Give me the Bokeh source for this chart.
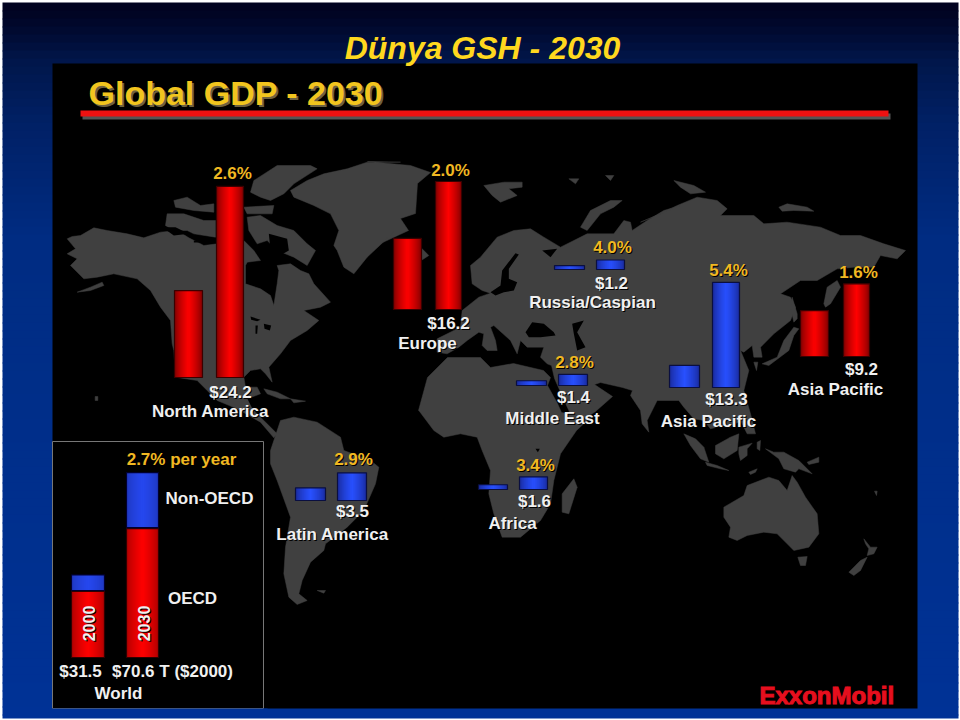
from bokeh.plotting import figure
from bokeh.embed import file_html
from bokeh.resources import INLINE
from bokeh.core.properties import value
from math import pi

# ---------- chart values ----------
TITLE = "Dünya GSH - 2030"
SUBTITLE = "Global GDP - 2030"
REGIONS = ["North America", "Europe", "Russia/Caspian", "Middle East", "Asia Pacific", "Asia Pacific", "Latin America", "Africa"]
GDP_2000 = [11.0, 9.0, 0.5, 0.6, 2.8, 5.8, 1.6, 0.6]
GDP_2030 = [24.2, 16.2, 1.2, 1.4, 13.3, 9.2, 3.5, 1.6]
GROWTH = ["2.6%", "2.0%", "4.0%", "2.8%", "5.4%", "1.6%", "2.9%", "3.4%"]
IS_OECD = [True, True, False, False, False, True, False, False]
WORLD_YEARS = ["2000", "2030"]
WORLD_OECD = [25.2, 49.2]
WORLD_NON_OECD = [6.3, 21.4]

# ---------- map outlines ----------
def z(ox, oy, pts):
    return [(ox + a / 3, oy + b / 3) for a, b in pts]
def z4(p): return z(60, 150, p)
def z5(p): return z(260, 380, p)
def z6(p): return z(380, 150, p)
def z7(p): return z(640, 180, p)
def z8(p): return z(640, 400, p)

NORTH_AMERICA = z4([(20,265),(35,258),(60,255),(100,232),(140,240),(200,250),(250,262),(300,245),(350,240),(385,262),(430,285),(470,280),(550,270),(580,300),(600,330),(560,335),
    (555,345),(555,400),(600,415),(630,435),(640,465),(650,400),(655,360),(650,345),(690,340),(720,360),(745,370),(760,400),(810,455),(780,470),(730,480),(775,510),(740,540),(690,570),
    (660,610),(625,650),(635,695),(615,670),(600,655),(570,660),(550,680),(555,710),(590,710),(600,730),(560,745),(575,775),(610,810),(650,850),(640,862),(600,815),(530,775),(470,750),(440,720),
    (410,690),(345,680),(340,600),(335,580),(330,510),(300,470),(270,420),(230,385),(160,370),(110,380),(70,385),(30,345),(50,325),(20,310),(45,295)])
ALEUTIANS = z4([(50,425),(90,410),(125,395),(130,405),(90,420)])
HAWAII = z4([(104,738),(112,738),(112,750),(104,750)])
BAFFIN = z4([(560,200),(600,195),(650,225),(700,240),(740,280),(765,300),(740,345),(700,320),(650,300),(620,270),(590,280),(565,240)])
ARCTIC_A = z4([(340,150),(380,140),(420,165),(460,160),(460,185),(400,180),(345,170)])
ARCTIC_B = z4([(320,190),(370,190),(430,210),(465,210),(465,260),(400,250),(380,240),(340,240),(315,225)])
ELLESMERE = z4([(580,90),(650,45),(750,45),(770,55),(700,100),(670,130),(630,150),(600,140),(570,125)])
DEVON = z4([(550,170),(640,165),(635,190),(560,190)])
GREENLAND = z4([(690,120),(740,90),(790,70),(860,55),(920,35),(1020,35)]) + [(367,161),(410,165),(430,172),(417,183),(415,213),(400,218),(408,230),(380,243)] + z4([(1000,245),(920,320),(880,370),(850,350),(830,300),(820,285),(835,240),(810,190),(760,165),(700,140)])
ICELAND = z6([(122,292),(145,315),(122,330)])
CUBA = z4([(610,715),(650,725),(690,745),(660,745),(620,730)])
HISPANIOLA = z4([(690,745),(735,752),(700,757)])
SOUTH_AMERICA = z5([(30,210),(60,120),(100,110),(170,125),(240,170),(250,210),(330,240),(355,260),(345,310),(310,390),(260,440),(195,490),(190,510),(150,545),(125,600),(115,640),(140,660),(110,672),(85,650),(70,580),(75,500),(90,410),(50,300),(30,250)])
FALKLAND = z5([(170,630),(195,630),(190,638)])
AFRICA = [(418,410),(427,377),(447,357),(480,357),(490,367),(513,363),(543,370),(550,377),(547,385),(557,403),(561,412),(590,417),(576,430)] + z5([(900,220),(880,300),(870,370),(840,420),(780,470),(725,470),(700,400),(685,340),(690,270),(665,210),(650,170),(600,160),(550,170),(520,150),(475,90)])
MADAGASCAR = z5([(905,340),(940,295),(950,320),(925,400),(905,395)])
EURASIA = z6([(170,565),(240,530),(245,480),(295,440),(330,428),(305,420),(275,400),(270,345),(300,320),(350,260),(400,240),(450,235),(490,260),(540,290),(580,270),(620,250),(700,250),(730,210),(750,215),(755,240),(800,210),(850,180),(900,165)]) + \
    z7([(0,125),(60,100),(110,75),(170,50),(230,60),(260,85),(240,105),(340,105),(370,130),(440,125),(540,140),(600,165),(660,165),(730,190),(795,210),(770,235),(720,225),(700,260),(640,260),(590,265),(530,300),(480,300),(420,340),(450,350),(465,380),(450,420),(400,460),(360,500),(365,530),(340,530),(335,495),(310,515),(300,510),(325,570),(310,630),(330,700)]) + \
    z8([(340,80),(345,100),(320,100),(300,60),(270,80),(250,75),(210,85),(190,60),(160,55),(130,20),(115,0),(50,0),(20,60),(25,95),(5,70),(0,30)]) + \
    [(630,395),(632,390),(622,387),(600,382),(594,384),(600,388),(612,396),(595,411),(575,424),(566,405),(554,378),(551,365)] + \
    z6([(500,640),(480,620),(490,590),(440,590),(420,570),(410,610),(390,570),(340,525),(330,530),(345,570),(350,600),(320,600),(305,585),(310,550),(295,545),(260,570),(235,590),(200,610),(170,605)])
NOVAYA = z6([(600,230),(630,180),(690,150),(725,150),(700,170),(660,190),(620,240)])
SVALBARD = z6([(310,105),(370,95),(425,95),(425,110),(385,115),(410,135),(360,155),(335,135)])
ARCTIC_C = z6([(565,85),(595,85),(585,100)])
ARCTIC_D = z6([(675,75),(700,75),(690,90)])
ARCTIC_E = z7([(100,0),(160,15),(195,35),(150,40),(120,20)])
ARCTIC_F = z7([(415,80),(440,70),(500,80),(520,92),(460,90),(425,92)])
SAKHALIN = z7([(550,370),(560,320),(590,300),(600,320),(570,370),(555,380)])
HOKKAIDO = z7([(455,350),(470,400),(470,415),(460,425),(450,380)])
JAPAN = z7([(365,550),(410,530),(430,480),(460,440),(475,445),(460,465),(445,510),(385,555)])
TAIWAN = z7([(340,545),(352,545),(348,570)])
SUMATRA = z8([(130,100),(165,115),(190,140),(205,185),(180,175),(150,135)])
BORNEO = z8([(225,135),(270,110),(295,100),(290,150),(250,175),(225,160)])
SULAWESI = z8([(295,140),(335,128),(320,145),(320,165),(300,180),(295,160)])
PHILIPPINES = z8([(350,125),(360,120),(358,150),(350,145)])
JAVA = z8([(195,185),(230,195),(265,210),(240,205),(200,195)])
NEW_GUINEA = z8([(375,145),(400,155),(430,155),(475,180),(515,220),(475,205),(465,215),(430,205),(415,175)])
NEW_BRITAIN = z8([(500,185),(535,170),(535,185),(505,192)])
TIMOR = z8([(325,215),(350,205),(345,215),(330,222)])
AUSTRALIA = z8([(250,320),(310,285),(320,255),(385,230),(415,240),(440,270),(455,225),(470,245),(495,290),(530,340),(535,400),(505,440),(460,450),(440,430),(410,400),(370,395),(320,405),(290,420),(265,410),(270,380),(250,350)])
TASMANIA = z8([(472,470),(500,468),(495,495),(480,495)])
NZ_SOUTH = z8([(625,515),(660,480),(680,470),(660,510),(640,525)])
NZ_NORTH = z8([(670,415),(690,440),(710,440),(700,460),(680,465),(685,445),(675,430)])
NOUMEA = z8([(702,272),(710,272),(708,285)])
LAND = [NORTH_AMERICA, ALEUTIANS, HAWAII, BAFFIN, ARCTIC_A, ARCTIC_B, ELLESMERE, DEVON, GREENLAND, ICELAND, CUBA, HISPANIOLA,
        SOUTH_AMERICA, FALKLAND, AFRICA, MADAGASCAR, EURASIA, NOVAYA, SVALBARD, ARCTIC_C, ARCTIC_D, ARCTIC_E, ARCTIC_F, SAKHALIN,
        HOKKAIDO, JAPAN, TAIWAN, SUMATRA, BORNEO, SULAWESI, PHILIPPINES, JAVA, NEW_GUINEA, NEW_BRITAIN, TIMOR, AUSTRALIA, TASMANIA,
        NZ_SOUTH, NZ_NORTH, NOUMEA]

WATER = [z4([(625,250),(680,265),(685,300),(650,320),(630,300)]),
         z4([(570,498),(600,508),(590,512),(572,508)]),
         z4([(610,520),(632,525),(628,540),(612,535)]),
         z4([(585,525),(592,525),(590,550),(585,550)]),
         z4([(400,270),(440,272),(440,276),(400,276)]),
         z4([(305,230),(345,230),(385,250),(340,255)]),
         z6([(345,435),(330,425),(360,405),(365,360),(405,308),(415,312),(385,355),(385,385),(410,395),(400,420),(370,425)]),
         z6([(435,545),(455,515),(490,520),(520,545),(525,555),(480,560),(445,560)]),
         z6([(575,520),(610,510),(590,545),(615,590),(590,600),(580,550)]),
         z6([(485,300),(530,295),(510,320)]),
         z5([(825,205),(838,205),(832,215)])]

# ---------- layout in page pixels ----------
PANEL = (52, 917, 63, 708)
BAR_X = [(174,202,216,243),(393,421,435,461),(554,584,596,624),(516,546,558,587),(669,699,712,739),(800,828,843,869),(295,325,337,366),(478,507,519,547)]
BAR_BASE = [377, 309, 269, 385, 387, 356, 500, 489]
K = 7.9
GROWTH_POS = [(232,173),(450,170),(612,247),(574,362),(728,270),(858,272),(353,459),(535,465)]
VAL_POS = [(230,392),(448,323),(611,283),(573,397),(726,399),(861,369),(352,511),(534,501)]
NAME_POS = [(210,411),(427,343),(592,302),(552,418),(708,421),(835,389),(332,534),(512,523)]

p = figure(width=960, height=720, x_range=(0, 960), y_range=(720, 0), toolbar_location=None,
           output_backend="svg", min_border=0, outline_line_color=None, background_fill_color="#ffffff",
           border_fill_color="#ffffff")
p.axis.visible = False
p.grid.visible = False

# background gradient
stops = [(0,(2,2,28)),(20,(1,6,40)),(60,(1,22,74)),(120,(1,32,100)),(240,(0,44,130)),(720,(0,50,150))]
def grad(y):
    for (a, ca), (b, cb) in zip(stops, stops[1:]):
        if a <= y <= b:
            t = (y - a) / (b - a)
            return "#%02x%02x%02x" % tuple(int(round(u + (v - u) * t)) for u, v in zip(ca, cb))
    return "#003296"
ys = list(range(2, 718, 8))
p.quad(left=2, right=958, top=ys, bottom=[min(y + 9, 718) for y in ys], fill_color=[grad(y + 4) for y in ys], line_color=None)

# panel
p.quad(left=[PANEL[0]], right=[PANEL[1]], top=[PANEL[2]], bottom=[PANEL[3]], fill_color="#000000", line_color=None)

# map
p.patches([[a for a, b in s] for s in LAND], [[b for a, b in s] for s in LAND], fill_color="#404040", line_color="#404040", line_width=0.5)
p.patches([[a for a, b in s] for s in WATER], [[b for a, b in s] for s in WATER], fill_color="#000000", line_color=None)

# rule
p.quad(left=[82], right=[890], top=[113], bottom=[119], fill_color="#555555", line_color=None)
p.quad(left=[80], right=[888], top=[110], bottom=[116], fill_color="#ee1111", line_color=None)

# inset
p.quad(left=[52], right=[263], top=[441], bottom=[708], fill_color="#000000", line_color="#777777", line_width=1)
p.quad(left=[48], right=[267], top=[708], bottom=[712], fill_color=grad(710), line_color=None)

RED = [(120,0,0),(255,0,0)]
BLUE = [(24,40,150),(40,80,255)]
def bar(x0, x1, top, bottom, ramp, border):
    n = int(x1 - x0)
    ls, rs, cs = [], [], []
    for i in range(0, n, 2):
        t = 1 - abs((i + 1) / n - 0.5) * 2
        t = min(1, t) ** 0.7
        cs.append("#%02x%02x%02x" % tuple(int(u + (v - u) * t) for u, v in zip(*ramp)))
        ls.append(x0 + i)
        rs.append(min(x0 + i + 3, x1))
    p.quad(left=ls, right=rs, top=top, bottom=bottom, fill_color=cs, line_color=None)
    p.quad(left=[x0], right=[x1], top=[top], bottom=[bottom], fill_color=None, line_color=border, line_width=1.2)

for xs, base, a, b, oecd in zip(BAR_X, BAR_BASE, GDP_2000, GDP_2030, IS_OECD):
    ramp = RED if oecd else BLUE
    border = "#3a0000" if oecd else "#0a0f40"
    bar(xs[0], xs[1], base - a * K, base, ramp, border)
    bar(xs[2], xs[3], base - b * K, base, ramp, border)

# world stacked bars
W_K = 2.62
W_BASE = 657
W_X = [(71, 104), (126, 158)]
for (x0, x1), o, n in zip(W_X, WORLD_OECD, WORLD_NON_OECD):
    split = W_BASE - o * W_K
    bar(x0, x1, split, W_BASE, [(170,0,0),(255,0,0)], "#300000")
    bar(x0, x1, split - n * W_K, split - 1, [(30,55,190),(38,72,240)], "#000030")

FONT = value("Liberation Sans")
def label(x, y, txt, color="#f0f0f0", size=17, shadow=True, align="center", angle=0, style="bold"):
    if shadow:
        p.text([x + 1], [y + 1], text=[txt], text_color="#000000", text_font=FONT, text_font_size=f"{size}px",
               text_font_style=style, text_align=align, text_baseline="middle", angle=angle)
    p.text([x], [y], text=[txt], text_color=color, text_font=FONT, text_font_size=f"{size}px",
           text_font_style=style, text_align=align, text_baseline="middle", angle=angle)

YEL = "#f0b822"
for (x, y), t in zip(GROWTH_POS, GROWTH):
    label(x, y, t, YEL, 17)
for (x, y), v in zip(VAL_POS, GDP_2030):
    label(x, y, "$%.1f" % v, "#f0f0f0", 17)
for (x, y), n in zip(NAME_POS, REGIONS):
    label(x, y, n, "#f0f0f0", 17)

label(181, 459, "2.7% per year", YEL, 17)
label(209, 498, "Non-OECD", "#f0f0f0", 17)
label(192, 598, "OECD", "#f0f0f0", 17)
label(80, 671, "$31.5", "#f0f0f0", 17)
label(172, 671, "$70.6 T ($2000)", "#f0f0f0", 17)
label(118, 693, "World", "#f0f0f0", 17)
label(88, 623, WORLD_YEARS[0], "#f0f0f0", 16, angle=pi/2)
label(143, 623, WORLD_YEARS[1], "#f0f0f0", 16, angle=pi/2)

# headings
p.text([482], [47], text=[TITLE], text_color="#ffd81e", text_font=FONT, text_font_size="32px",
       text_font_style="bold italic", text_align="center", text_baseline="middle")
p.text([90], [94], text=[SUBTITLE], text_color="#6e6240", text_font=FONT, text_font_size="34px",
       text_font_style="bold", text_align="left", text_baseline="middle")
p.text([88], [92], text=[SUBTITLE], text_color="#f2c51e", text_font=FONT, text_font_size="34px",
       text_font_style="bold", text_align="left", text_baseline="middle")

# logo
p.text([759], [695], text=["ExxonMobil"], text_color="#e60f1e", text_font=FONT, text_font_size="24px",
       text_font_style="bold", text_align="left", text_baseline="middle", text_outline_color="#e60f1e")

open("out.html", "w").write(file_html(p, INLINE))
